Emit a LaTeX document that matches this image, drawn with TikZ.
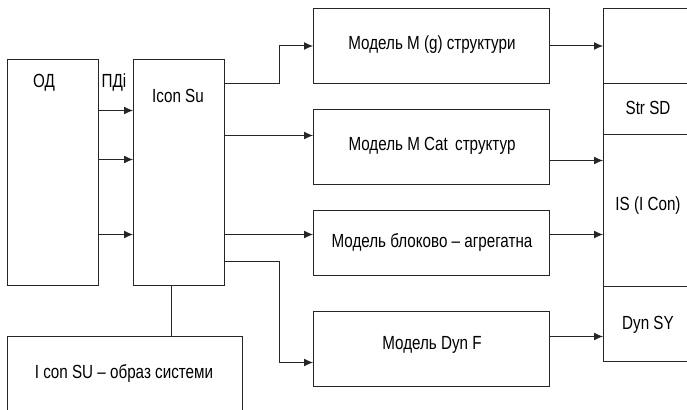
\documentclass[tikz,border=0pt]{standalone}
\usepackage{fontspec}
\setmainfont{Liberation Sans}[FakeStretch=0.8]
\usetikzlibrary{arrows.meta, positioning, calc}

\begin{document}
\begin{tikzpicture}[x=1pt, y=-1pt,
  blk/.style={draw=black!85, line width=1pt, rectangle, inner sep=0pt, anchor=north west},
  txt/.style={font=\fontsize{19}{22}\selectfont, inner sep=1pt},
  arr/.style={draw=black!85, line width=1pt, -{Latex[length=9pt, width=8pt]}},
  ln/.style={draw=black!85, line width=1pt}]
\useasboundingbox (0,0) rectangle (687,409);
\clip (0,0) rectangle (687,409);

% левая часть: ОД и Icon Su
\node[blk, minimum width=91pt, minimum height=226pt] (od) at (7,59) {};
\node[blk, minimum width=91pt, minimum height=226pt] (icon) at (133,59) {};
\node[txt] (odtxt) at (44,83) {ОД};
\node[txt] (pdi) at (114,83) {ПДі};
\node[txt] (icontxt) at (178,96) {Icon Su};

% модели
\node[blk, minimum width=236pt, minimum height=75pt] (mg) at (313,8) {};
\node[blk, minimum width=236pt, minimum height=75pt] (mcat) at (313,109) {};
\node[blk, minimum width=236pt, minimum height=65pt] (mblk) at (313,210) {};
\node[blk, minimum width=236pt, minimum height=75pt] (mdyn) at (313,311) {};
\node[txt] (mgtxt) at (432,45) {Модель M (g) структури};
\node[txt] (mcattxt) at (432,146) {Модель M Cat\, структур};
\node[txt] (mblktxt) at (432,243) {Модель блоково -- агрегатна};
\node[txt] (mdyntxt) at (432,345) {Модель Dyn F};

% правый блок
\node[blk, minimum width=88pt, minimum height=75pt] (rtop) at (603,8) {};
\node[blk, minimum width=88pt, minimum height=51pt] (strsd) at (603,83) {};
\node[blk, minimum width=88pt, minimum height=152pt] (iscon) at (603,134) {};
\node[blk, minimum width=88pt, minimum height=75pt] (dynsy) at (603,286) {};
\node[txt] (strsdtxt) at (648,108) {Str SD};
\node[txt] (iscontxt) at (648,206) {IS (I Con)};
\node[txt] (dynsytxt) at (648,325) {Dyn SY};

% образ системы
\node[blk, minimum width=235pt, minimum height=75pt] (iconsu) at (7,336) {};
\node[txt] (iconsutxt) at (124,373) {I con SU -- образ системи};

% ОД -> Icon Su
\foreach \dy in {62,13,-62}
  \draw[arr] ([yshift=\dy pt]od.east) coordinate (p) -- (p -| icon.west);

% Icon Su -> модели
\draw[arr] ([yshift=89pt]icon.east) -- ++(54,0) |- (mg.west);
\draw[arr] ([yshift=37pt]icon.east) coordinate (a) -- (a -| mcat.west);
\draw[arr] ([yshift=-62pt]icon.east) coordinate (b) -- (b -| mblk.west);
\draw[arr] ([yshift=-89pt]icon.east) -- ++(54,0) |- ([yshift=-13.5pt]mdyn.west);
\draw[ln] ([xshift=-8pt]icon.south) coordinate (c) -- (c |- iconsu.north);

% модели -> правый блок
\draw[arr] (mg.east) -- (mg.east -| rtop.west);
\draw[arr] ([yshift=-13.5pt]mcat.east) coordinate (d) -- (d -| iscon.west);
\draw[arr] ([yshift=8.5pt]mblk.east) coordinate (e) -- (e -| iscon.west);
\draw[arr] ([yshift=12.5pt]mdyn.east) coordinate (f) -- (f -| dynsy.west);
\end{tikzpicture}
\end{document}
